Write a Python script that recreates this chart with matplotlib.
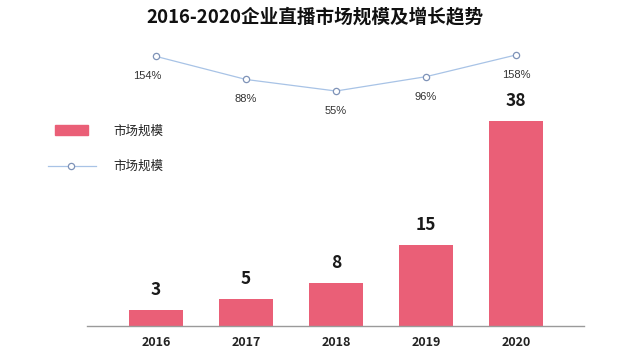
import matplotlib
matplotlib.use("Agg")
import matplotlib.pyplot as plt
from matplotlib.patches import Rectangle
from matplotlib.lines import Line2D

plt.rcParams['font.family'] = ['Noto Sans CJK SC', 'DejaVu Sans']

years = ["2016", "2017", "2018", "2019", "2020"]
market_size = [3, 5, 8, 15, 38]
growth = [154, 88, 55, 96, 158]
growth_labels = ["154%", "88%", "55%", "96%", "158%"]
title = "2016-2020企业直播市场规模及增长趋势"
legend_name = "市场规模"

bar_color = "#ea5f77"
line_color = "#a8c3e6"
marker_edge = "#7f93b8"

W, H = 630, 355
fig = plt.figure(figsize=(W / 100, H / 100), dpi=100)

# axes box in pixels: left 87, right 584, bottom 326, top 30
ax = fig.add_axes([87 / W, 1 - 326 / H, (584 - 87) / W, (326 - 30) / H])
x = list(range(len(years)))
ax.bar(x, market_size, width=0.59, color=bar_color, zorder=2)
ax.set_xlim(-0.767, 4.756)
ax.set_ylim(0, 296 / 5.39)
for xi, v in zip(x, market_size):
    ax.text(xi, v + 3.7, str(v), ha="center", va="center", fontsize=12.5,
            fontweight="semibold", color="#1a1a1a")

for s in ["top", "right", "left"]:
    ax.spines[s].set_visible(False)
ax.spines["bottom"].set_color("#9a9a9a")
ax.spines["bottom"].set_linewidth(1.0)
ax.set_yticks([])
ax.set_xticks(x)
ax.set_xticklabels(years, fontsize=9, fontweight="bold", color="#222222")
ax.tick_params(axis="x", length=0, pad=7)

# growth line on its own scale
ax2 = ax.twinx()
ax2.set_ylim(-616.6, 229.4)
ax2.plot(x, growth, color=line_color, linewidth=0.9, marker="o", markersize=4.5,
         markerfacecolor="white", markeredgecolor=marker_edge, markeredgewidth=0.9, zorder=3)
for xi, v, lab in zip(x, growth, growth_labels):
    dx = -0.1 if xi == 0 else 0
    ax2.text(xi + dx, v - 57, lab, ha="center", va="center", fontsize=8,
             family=["Liberation Sans", "DejaVu Sans"], color="#333333")
ax2.axis("off")

# legend drawn in figure pixels
fig.patches.append(Rectangle((55 / W, 1 - 135 / H), 33 / W, 10 / H,
                             transform=fig.transFigure, color=bar_color))
fig.text(113 / W, 1 - 131 / H, legend_name, fontsize=9, va="center", color="#222222")
fig.lines.append(Line2D([48 / W, 96 / W], [1 - 166 / H, 1 - 166 / H],
                        transform=fig.transFigure, color=line_color, linewidth=0.9))
fig.lines.append(Line2D([71 / W], [1 - 166 / H], transform=fig.transFigure,
                        marker="o", markersize=4.5, markerfacecolor="white",
                        markeredgecolor=marker_edge, markeredgewidth=0.9))
fig.text(113 / W, 1 - 166 / H, legend_name, fontsize=9, va="center", color="#222222")

fig.text(315 / W, 1 - 17 / H, title, ha="center", va="center", fontsize=13.4,
         fontweight="bold", color="#111111")

fig.savefig("out.png", dpi=100, facecolor="white")
